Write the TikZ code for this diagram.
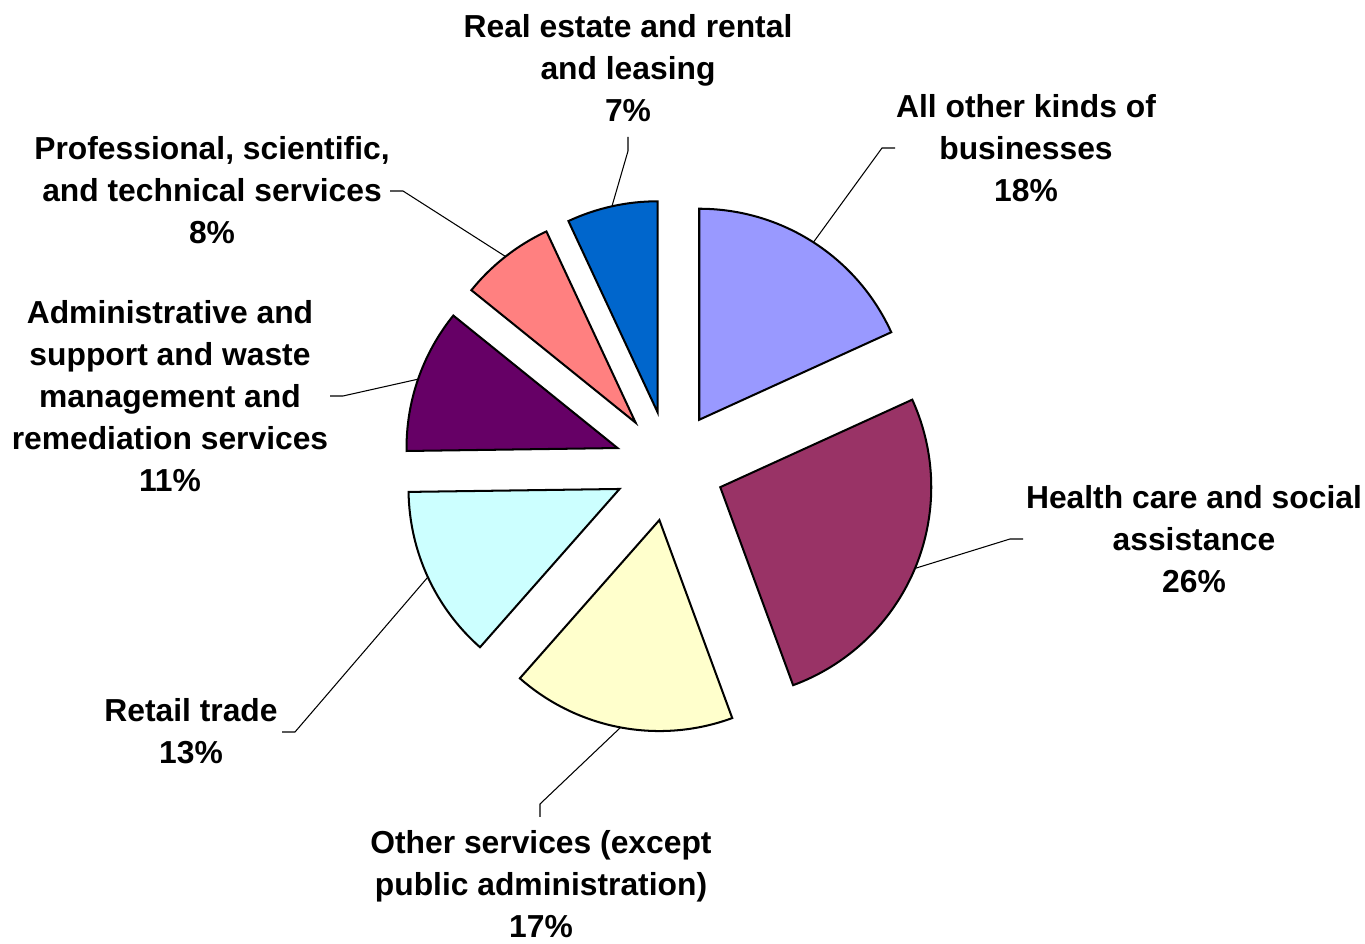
\documentclass[tikz,border=0pt]{standalone}
\usepackage{fontspec}
\setmainfont{Liberation Sans}
\usetikzlibrary{calc}
\definecolor{cA}{HTML}{9999FF}
\definecolor{cB}{HTML}{993366}
\definecolor{cC}{HTML}{FFFFCC}
\definecolor{cD}{HTML}{CCFFFF}
\definecolor{cE}{HTML}{660066}
\definecolor{cF}{HTML}{FF8080}
\definecolor{cG}{HTML}{0066CC}
\tikzset{
  slice/.style={draw=black, line width=1.15pt, line join=miter},
  leader/.style={draw=black, line width=0.6pt},
  lab/.style={font=\bfseries\fontsize{18.1}{23.8}\selectfont, align=center, inner sep=0pt, anchor=center}
}
\begin{document}
\begin{tikzpicture}
\useasboundingbox (0,0) rectangle (27.3,18.88);
\coordinate (C) at (13.39,9.56);
\foreach \s/\e/\col/\n in {24.5/90/cA/s1, -69.8/24.5/cB/s2, -131.4/-69.8/cC/s3, -179.2/-131.4/cD/s4, 141.1/180.8/cE/s5, 115/141.1/cF/s6, 90/115/cG/s7} {
  \pgfmathsetmacro\b{(\s+\e)/2}
  \coordinate (\n) at ($(C)+(\b:1.1)$);
  \draw[slice, fill=\col] (\n) -- ++(\s:4.22) arc[start angle=\s, end angle=\e, radius=4.22cm] -- cycle;
  \coordinate (\n-e) at ($(\n)+(\b:4.22)$);
}
% labels
\node[lab] (lab7) at (12.56,17.52) {Real estate and rental\\and leasing\\7\%};
\node[lab] (lab1) at (20.52,15.92) {All other kinds of\\businesses\\18\%};
\node[lab] (lab6) at (4.24,15.08) {Professional, scientific,\\and technical services\\8\%};
\node[lab] (lab5) at (3.40,10.96) {Administrative and\\support and waste\\management and\\remediation services\\11\%};
\node[lab] (lab4) at (3.82,4.26) {Retail trade\\13\%};
\node[lab] (lab3) at (10.82,1.20) {Other services (except\\public administration)\\17\%};
\node[lab] (lab2) at (23.88,8.10) {Health care and social\\assistance\\26\%};
% leader coordinates
\coordinate (t1a) at (17.90,15.92); \coordinate (t1b) at (17.64,15.92);
\coordinate (t2a) at (20.46,8.10);  \coordinate (t2b) at (20.20,8.10);
\coordinate (t3a) at (10.80,2.54);  \coordinate (t3b) at (10.80,2.80);
\coordinate (t4a) at (5.64,4.24);   \coordinate (t4b) at (5.90,4.24);
\coordinate (t5a) at (6.60,10.96);  \coordinate (t5b) at (6.86,10.96);
\coordinate (t6a) at (7.80,15.06);  \coordinate (t6b) at (8.06,15.06);
\coordinate (t7a) at (12.56,16.14); \coordinate (t7b) at (12.56,15.86);
\foreach \i in {1,...,7} {
  \draw[leader] (t\i a) -- (t\i b) -- (s\i-e);
}
\end{tikzpicture}
\end{document}
